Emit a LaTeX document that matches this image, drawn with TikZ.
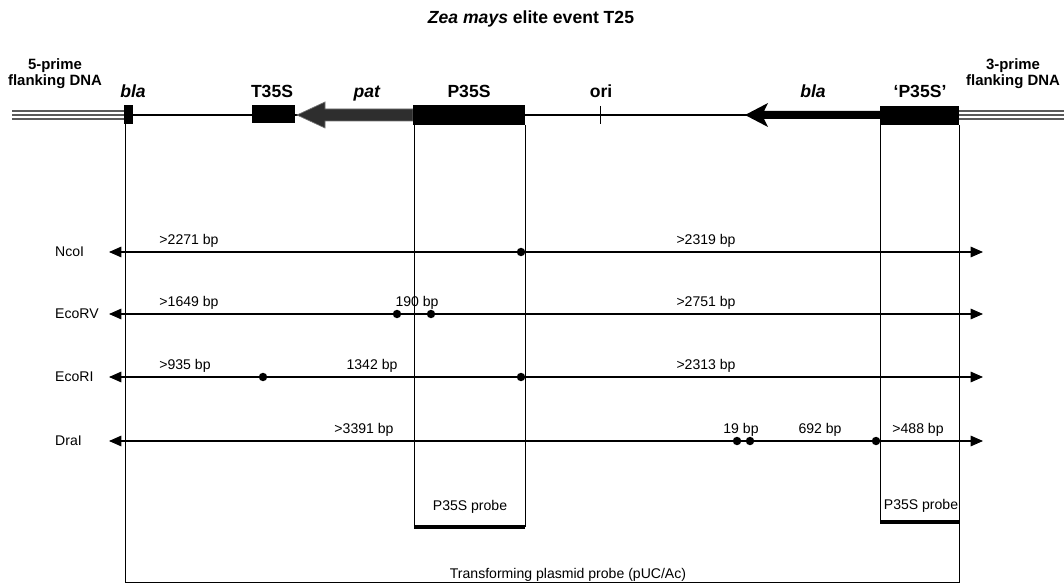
\documentclass[tikz,border=0pt]{standalone}
\usepackage{fontspec}
\setmainfont{Liberation Sans}
\usetikzlibrary{arrows.meta}

\begin{document}
\begin{tikzpicture}[x=0.02cm,y=-0.02cm,
  toplbl/.style={font=\fontsize{10}{11}\selectfont\bfseries,anchor=base},
  flanklbl/.style={font=\fontsize{8.5}{9.5}\selectfont\bfseries,align=center,anchor=base},
  lbl/.style={font=\fontsize{8}{9}\selectfont,anchor=base},
  enzyme/.style={font=\fontsize{8}{9}\selectfont,anchor=west},
  site/.style={circle,fill,inner sep=0pt,minimum size=4.8pt},
  digest/.style={{Triangle[length=7pt,width=6pt]}-{Triangle[length=7pt,width=6pt]},line width=0.6pt},
  guide/.style={line width=0.4pt},
  probebar/.style={line width=2.2pt},
  flank/.style={black!65,line width=1.1pt}]
\useasboundingbox (0,0) rectangle (1064,584);

\node[font=\fontsize{10}{12}\selectfont\bfseries,anchor=base] (title) at (531,24)
  {\textit{Zea mays} elite event T25};

% flanking plant DNA
\foreach \dy in {-4,0,4} {
  \draw[flank] (12,115+\dy) -- (125,115+\dy);
  \draw[flank] (959,115+\dy) -- (1064,115+\dy);
}
\node[flanklbl] (fivep) at (55,86) {5-prime\\flanking DNA};
\node[flanklbl] (threep) at (1013,86) {3-prime\\flanking DNA};

% insert map
\draw[line width=0.6pt] (133,115) -- (880,115);
\fill (124,105) rectangle (133,124);
\fill (252,105) rectangle (295,123);
\filldraw[fill=black!82,draw=black!55] (413,109) -- (325,109) -- (325,102) -- (297,115)
  -- (325,128) -- (325,121) -- (413,121) -- cycle;
\fill (413,105) rectangle (525,125);
\draw (600,106) -- (600,124);
\fill (880,111) -- (764,111) -- (768,103) -- (745,115) -- (768,127) -- (764,119)
  -- (880,119) -- cycle;
\fill (880,106) rectangle (959,125);

\node[toplbl] (blaL) at (133,98) {\textit{bla}};
\node[toplbl] (t35s) at (272,98) {T35S};
\node[toplbl] (pat) at (367,98) {\textit{pat}};
\node[toplbl] (p35s) at (469,98) {P35S};
\node[toplbl] (ori) at (601,98) {ori};
\node[toplbl] (blaR) at (813,98) {\textit{bla}};
\node[toplbl] (p35sR) at (920,98) {‘P35S’};

% probe outlines
\draw[guide] (125,124) -- (125,582) -- (959,582) -- (959,125);
\draw[guide] (414,125) -- (414,527);
\draw[guide] (525,125) -- (525,527);
\draw[probebar] (414,527) -- (525,527);
\draw[guide] (880,125) -- (880,522);
\draw[probebar] (880,522) -- (959,522);
\node[lbl] (probeA) at (470,510) {P35S probe};
\node[lbl] (probeB) at (921,509) {P35S probe};
\node[lbl] (plasmid) at (568,578) {Transforming plasmid probe (pUC/Ac)};

% digests
\foreach \name/\y in {NcoI/252,EcoRV/314,EcoRI/377,DraI/441} {
  \draw[digest] (109,\y) -- (983,\y);
  \node[enzyme] at (49,\y) {\name};
}
\node[site] (n1) at (521,252) {};
\node[site] (v1) at (397,314) {};
\node[site] (v2) at (431,314) {};
\node[site] (r1) at (263,377) {};
\node[site] (r2) at (521,377) {};
\node[site] (d1) at (737,441) {};
\node[site] (d2) at (750,441) {};
\node[site] (d3) at (876,441) {};

\node[lbl] at (189,244) {>2271 bp};
\node[lbl] at (706,244) {>2319 bp};
\node[lbl] at (189,306) {>1649 bp};
\node[lbl] at (417,306) {190 bp};
\node[lbl] at (706,306) {>2751 bp};
\node[lbl] at (185,369) {>935 bp};
\node[lbl] at (372,369) {1342 bp};
\node[lbl] at (706,369) {>2313 bp};
\node[lbl] at (364,433) {>3391 bp};
\node[lbl] at (741,433) {19 bp};
\node[lbl] at (820,433) {692 bp};
\node[lbl] at (918,433) {>488 bp};
\end{tikzpicture}
\end{document}
